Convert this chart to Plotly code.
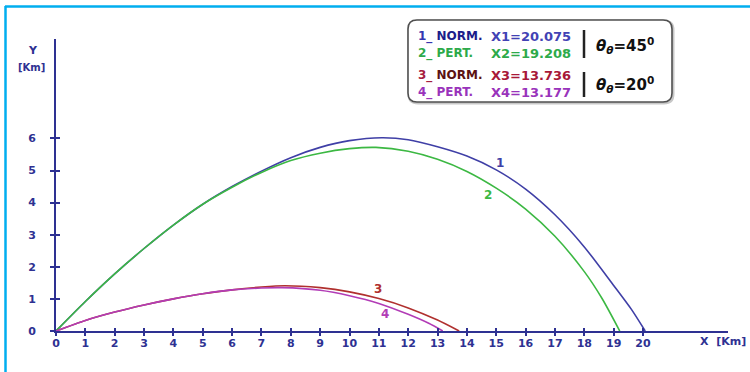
import plotly.graph_objects as go

# Trajectory samples, horizontal distance X [km] vs altitude Y [km]
x1 = [0, 1, 2, 3, 4, 5, 6, 7, 8, 9, 10, 11.1, 12, 13, 14, 15, 16, 17, 18, 19, 19.6, 20.075]
y1 = [0, 0.92, 1.78, 2.57, 3.30, 3.95, 4.50, 4.98, 5.40, 5.72, 5.93, 6.02, 5.96, 5.74, 5.45, 5.02, 4.42, 3.62, 2.62, 1.42, 0.68, 0]

x2 = [0, 1, 2, 3, 4, 5, 6, 7, 8, 9, 10, 10.9, 12, 13, 14, 15, 16, 17, 18, 18.6, 19.208]
y2 = [0, 0.92, 1.78, 2.57, 3.30, 3.95, 4.48, 4.94, 5.31, 5.54, 5.68, 5.72, 5.60, 5.35, 4.97, 4.45, 3.80, 2.95, 1.85, 1.02, 0]

x3 = [0, 1, 2, 3, 4, 5, 6, 7, 7.8, 9, 10, 11, 12, 13, 13.736]
y3 = [0, 0.33, 0.59, 0.81, 1.00, 1.16, 1.28, 1.37, 1.41, 1.35, 1.22, 1.01, 0.72, 0.34, 0]

x4 = [0, 1, 2, 3, 4, 5, 6, 7, 7.7, 9, 10, 11, 12, 12.7, 13.177]
y4 = [0, 0.33, 0.59, 0.81, 1.00, 1.16, 1.28, 1.34, 1.35, 1.27, 1.10, 0.86, 0.52, 0.24, 0]

curve_ids = ["1", "2", "3", "4"]
curve_colors = ["#3F3FA6", "#3CB843", "#B0302E", "#B23CB6"]
# where each curve number is written
label_x = [15.13, 14.72, 10.97, 11.21]
label_y = [5.23, 4.24, 1.31, 0.53]

x_ticks = list(range(0, 21))
y_ticks = list(range(0, 7))

# legend panel rows
row_num = ["1_", "2_", "3_", "4_"]
row_kind = ["NORM.", "PERT.", "NORM.", "PERT."]
row_range = ["X1=20.075", "X2=19.208", "X3=13.736", "X4=13.177"]
row_num_col = ["#3535B0", "#2DAA4A", "#A52040", "#9933BB"]
row_kind_col = ["#1C1C8A", "#2DAA4A", "#5C1212", "#9933BB"]
row_val_col = ["#4242B4", "#2DAA4A", "#A81838", "#9933BB"]
angles = ["45", "20"]

NAVY = "#2E3192"
FONT = "DejaVu Sans"

# plot area in page pixels
L, R, T, B = 56, 728, 39, 331
W, H = R - L, B - T


def pxx(p):
    return (p - L) / W


def pxy(p):
    return (B - p) / H


fig = go.Figure()
for xs, ys, col in zip([x1, x2, x3, x4], [y1, y2, y3, y4], curve_colors):
    fig.add_trace(go.Scatter(x=xs, y=ys, mode="lines",
                             line=dict(color=col, width=1.6, shape="spline", smoothing=0.7),
                             hoverinfo="skip", showlegend=False))
# empty trace so the overlaid tick axes get drawn
fig.add_trace(go.Scatter(x=[], y=[], xaxis="x2", yaxis="y2", showlegend=False, hoverinfo="skip"))


def page_text(px, py, text, size, color="#111111", xanchor="center"):
    return dict(x=pxx(px), y=pxy(py), xref="paper", yref="paper", text=text,
                xanchor=xanchor, yanchor="middle", showarrow=False,
                font=dict(family=FONT, size=size, color=color, weight="bold"))


annotations = []
for cid, lx, ly, col in zip(curve_ids, label_x, label_y, curve_colors):
    annotations.append(dict(x=lx, y=ly, xref="x", yref="y", text=cid, showarrow=False,
                            xanchor="center", yanchor="middle",
                            font=dict(family=FONT, size=12, color=col, weight="bold")))

# axis captions
annotations.append(page_text(33, 50, "Y", 11, NAVY))
annotations.append(page_text(31, 68, "[Km]", 10, NAVY))
annotations.append(page_text(698, 341, "X  [Km]", 11, NAVY, xanchor="left"))

# legend panel text
row_y = [37, 54, 75, 93]
for i in range(4):
    annotations.append(page_text(
        416, row_y[i],
        f"<span style='color:{row_num_col[i]}'>{row_num[i]}</span> "
        f"<span style='color:{row_kind_col[i]}'>{row_kind[i]}</span>",
        12, xanchor="left"))
    annotations.append(page_text(489, row_y[i], row_range[i], 13, row_val_col[i], xanchor="left"))

for k, ang in enumerate(angles):
    annotations.append(page_text(594, [46, 85][k],
                                 f"<i>θ</i><sub><i>θ</i></sub>={ang}<sup>0</sup>",
                                 15, xanchor="left"))


def rounded_box(l, t, r, b, rad):
    pts = [
        f"M {pxx(l + rad)},{pxy(t)}",
        f"L {pxx(r - rad)},{pxy(t)}",
        f"Q {pxx(r)},{pxy(t)} {pxx(r)},{pxy(t + rad)}",
        f"L {pxx(r)},{pxy(b - rad)}",
        f"Q {pxx(r)},{pxy(b)} {pxx(r - rad)},{pxy(b)}",
        f"L {pxx(l + rad)},{pxy(b)}",
        f"Q {pxx(l)},{pxy(b)} {pxx(l)},{pxy(b - rad)}",
        f"L {pxx(l)},{pxy(t + rad)}",
        f"Q {pxx(l)},{pxy(t)} {pxx(l + rad)},{pxy(t)}",
        "Z",
    ]
    return " ".join(pts)


shapes = [
    # page frame (top and left)
    dict(type="line", xref="paper", yref="paper", x0=pxx(5), x1=pxx(750), y0=pxy(6.5), y1=pxy(6.5),
         line=dict(color="#00AEEF", width=2.5)),
    dict(type="line", xref="paper", yref="paper", x0=pxx(5.5), x1=pxx(5.5), y0=pxy(6), y1=pxy(372),
         line=dict(color="#00AEEF", width=2.5)),
    # legend panel
    dict(type="path", xref="paper", yref="paper", path=rounded_box(409, 21, 673, 103, 9),
         line=dict(color="#C8C8C8", width=3), fillcolor="rgba(0,0,0,0)"),
    dict(type="path", xref="paper", yref="paper", path=rounded_box(408, 20, 672, 102, 9),
         line=dict(color="#505050", width=1.6), fillcolor="white"),
    dict(type="line", xref="paper", yref="paper", x0=pxx(584), x1=pxx(584), y0=pxy(30), y1=pxy(58),
         line=dict(color="#222222", width=2.5)),
    dict(type="line", xref="paper", yref="paper", x0=pxx(584), x1=pxx(584), y0=pxy(72), y1=pxy(97),
         line=dict(color="#222222", width=2.5)),
]

x_range = [0, (R - L) / 29.35]
y_range = [0, (B - T) / 32.1]

tickfont = dict(family=FONT, size=11, color=NAVY, weight="bold")

fig.update_layout(
    width=750, height=372, autosize=False,
    margin=dict(l=L, r=750 - R, t=T, b=372 - B),
    paper_bgcolor="white", plot_bgcolor="white",
    showlegend=False,
    xaxis=dict(range=x_range, tickvals=x_ticks, ticktext=[str(v) for v in x_ticks],
               ticks="outside", ticklen=3, tickwidth=1.5, tickcolor=NAVY,
               showline=True, linecolor=NAVY, linewidth=2, showgrid=False, zeroline=False,
               tickfont=tickfont, ticklabelstandoff=-2, fixedrange=True),
    yaxis=dict(range=y_range, tickvals=y_ticks, ticktext=[str(v) for v in y_ticks],
               ticks="outside", ticklen=4, tickwidth=1.5, tickcolor=NAVY,
               showline=True, linecolor=NAVY, linewidth=2, showgrid=False, zeroline=False,
               tickfont=tickfont, ticklabelstandoff=12, fixedrange=True),
    # second pair of axes carries the inner half of each tick
    xaxis2=dict(range=x_range, tickvals=x_ticks, overlaying="x", anchor="y", side="bottom",
                ticks="inside", ticklen=3, tickwidth=1.5, tickcolor=NAVY,
                showticklabels=False, showline=False, showgrid=False, zeroline=False,
                fixedrange=True),
    yaxis2=dict(range=y_range, tickvals=y_ticks, overlaying="y", anchor="x", side="left",
                ticks="inside", ticklen=4, tickwidth=1.5, tickcolor=NAVY,
                showticklabels=False, showline=False, showgrid=False, zeroline=False,
                fixedrange=True),
    annotations=annotations,
    shapes=shapes,
)

fig.write_html("out.html")
